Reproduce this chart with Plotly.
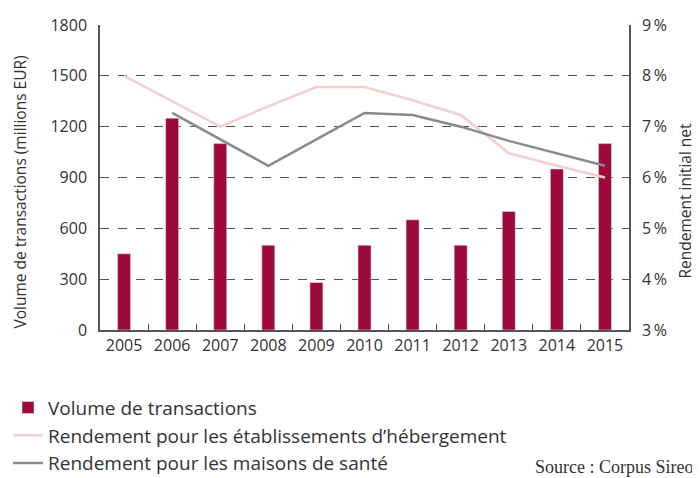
import plotly.graph_objects as go

# données
annees = ['2005', '2006', '2007', '2008', '2009', '2010', '2011', '2012', '2013', '2014', '2015']
volume = [450, 1250, 1100, 500, 280, 500, 650, 500, 700, 950, 1100]
rend_hebergement = [8.0, 7.5, 7.0, 7.4, 7.78, 7.78, 7.52, 7.23, 6.48, 6.23, 6.0]
rend_sante = [None, 7.27, 6.75, 6.23, 6.75, 7.27, 7.23, 7.0, 6.72, 6.48, 6.23]

ticks_gauche = [0, 300, 600, 900, 1200, 1500, 1800]
ticks_droite = [3, 4, 5, 6, 7, 8, 9]
labels_droite = [f'{t}\u2009%' for t in ticks_droite]

police = 'Open Sans'
gris_texte = '#333333'

fig = go.Figure()

fig.add_trace(go.Bar(
    x=annees, y=volume,
    name='Volume de transactions',
    marker_color='#9e0a38',
    width=0.27,
    legendgroup='a',
))
fig.add_trace(go.Scatter(
    x=annees, y=rend_hebergement,
    name='Rendement pour les établissements d’hébergement',
    mode='lines',
    line=dict(color='#f0d0d0', width=2.5),
    yaxis='y2',
    legendgroup='b',
))
fig.add_trace(go.Scatter(
    x=annees, y=rend_sante,
    name='Rendement pour les maisons de santé',
    mode='lines',
    line=dict(color='#8a8a8a', width=2.5),
    yaxis='y2',
    legendgroup='c',
))

fig.update_layout(
    width=692,
    height=470,
    margin=dict(l=92, r=71, t=17, b=148, autoexpand=False),
    plot_bgcolor='white',
    paper_bgcolor='white',
    font=dict(family=police, size=15, color=gris_texte),
    legend=dict(
        xref='container', yref='container',
        x=0.0, y=0.19, xanchor='left', yanchor='top',
        font=dict(size=19, color=gris_texte),
        traceorder='normal',
        itemwidth=30,
        tracegroupgap=6,
    ),
    xaxis=dict(
        type='category',
        showline=True, linecolor='#555555', linewidth=1.5,
        ticks='inside', tickson='boundaries', ticklen=6, tickcolor='#555555',
        showgrid=False, tickangle=0,
        tickfont=dict(size=16),
    ),
    yaxis=dict(
        range=[0, 1800],
        tickvals=ticks_gauche,
        showline=True, linecolor='#555555', linewidth=1.5,
        showgrid=True, gridcolor='#555555', griddash='dash', gridwidth=1,
        zeroline=False,
        ticks='', ticklabelstandoff=8,
        tickfont=dict(size=16),
    ),
    yaxis2=dict(
        range=[3, 9],
        overlaying='y', side='right',
        tickvals=ticks_droite, ticktext=labels_droite,
        showline=True, linecolor='#555555', linewidth=1.5,
        showgrid=False, zeroline=False,
        ticks='', ticklabelstandoff=8,
        tickfont=dict(size=16),
    ),
    annotations=[
        dict(text='Volume de transactions (millions EUR)', xref='paper', yref='paper',
             x=-0.151, y=0.451, xanchor='center', yanchor='middle',
             textangle=-90, showarrow=False,
             font=dict(size=15.5, color=gris_texte)),
        dict(text='Rendement initial net', xref='paper', yref='paper',
             x=1.105, y=0.423, xanchor='center', yanchor='middle',
             textangle=-90, showarrow=False,
             font=dict(size=15.5, color=gris_texte)),
        dict(text='Source : Corpus Sireo', xref='paper', yref='paper',
             x=1.125, y=-0.449, xanchor='right', yanchor='middle', showarrow=False,
             font=dict(family='Liberation Serif', size=18, color=gris_texte)),
    ],
)

fig.write_html('out.html')
